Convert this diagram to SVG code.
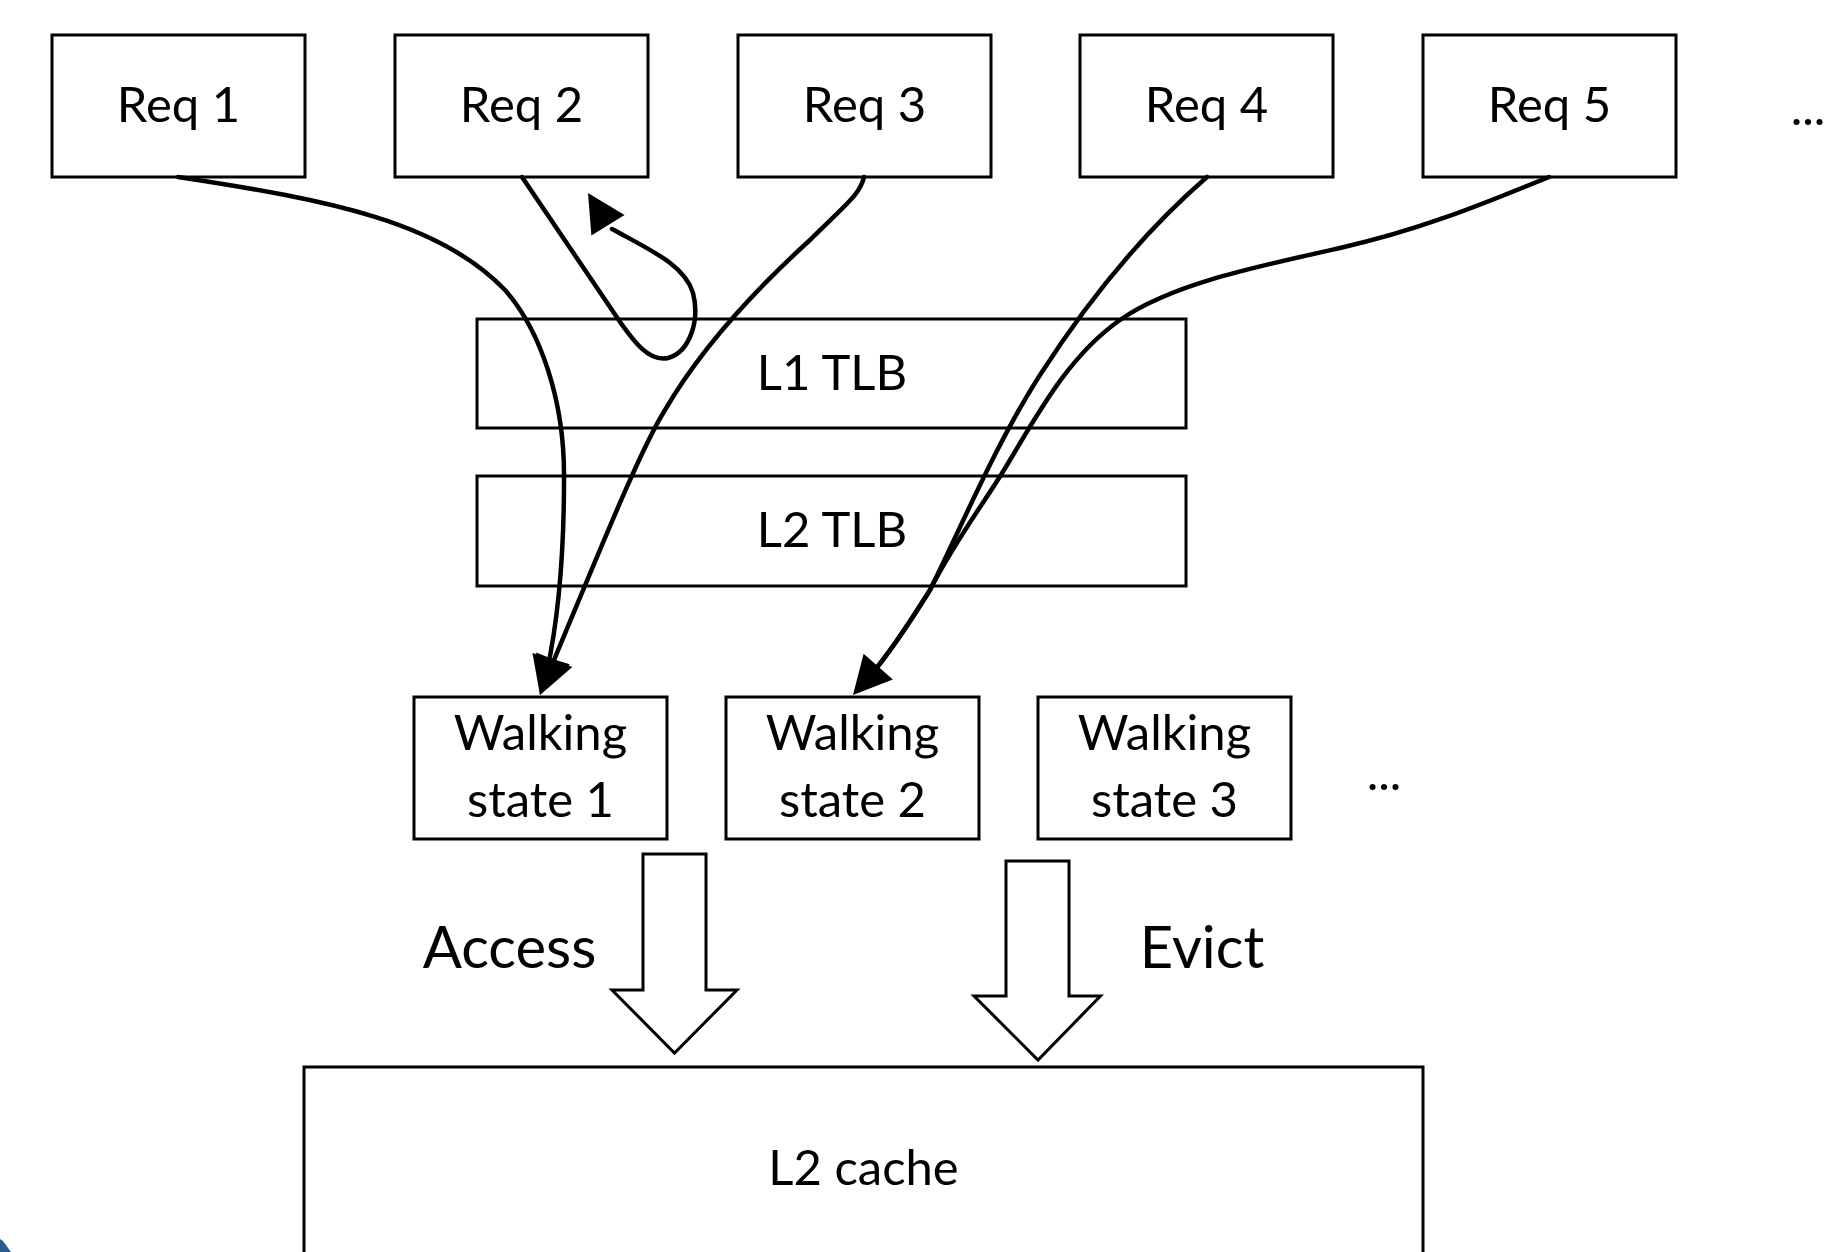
<svg xmlns="http://www.w3.org/2000/svg" xmlns:xlink="http://www.w3.org/1999/xlink" width="1839" height="1252" viewBox="0 0 1839 1252">
<style>
.box{fill:#fff;stroke:#000;stroke-width:3}
.lbl{font-family:Lato,'Open Sans',sans-serif;font-size:49px;text-anchor:middle;fill:#000}
.big{font-size:58px}
.conn{fill:none;stroke:#000;stroke-width:4.5;stroke-linecap:round;stroke-linejoin:round}
.block{fill:#fff;stroke:#000;stroke-width:3;stroke-linejoin:miter}
.ah{fill:#000;stroke:none}
</style>
<defs>
<path id="ah" class="ah" d="M0,0 L-38,-19.5 L-38,19.5 Z"/>
</defs>
<rect width="1839" height="1252" fill="#fff"/>
<polygon points="0,1239 3,1241 11,1252 0,1252" fill="#2B5B8C"/>

<g id="req1"><rect class="box" x="52" y="35" width="253" height="142"/><text class="lbl" x="178.5" y="122">Req 1</text></g>
<g id="req2"><rect class="box" x="395" y="35" width="253" height="142"/><text class="lbl" x="521.5" y="122">Req 2</text></g>
<g id="req3"><rect class="box" x="738" y="35" width="253" height="142"/><text class="lbl" x="864.5" y="122">Req 3</text></g>
<g id="req4"><rect class="box" x="1080" y="35" width="253" height="142"/><text class="lbl" x="1206.5" y="122">Req 4</text></g>
<g id="req5"><rect class="box" x="1423" y="35" width="253" height="142"/><text class="lbl" x="1549.5" y="122">Req 5</text></g>
<g id="req-more"><text class="lbl" x="1808" y="125">...</text></g>

<g id="l1tlb"><rect class="box" x="477" y="319" width="709" height="109"/><text class="lbl" x="832" y="390">L1 TLB</text></g>
<g id="l2tlb"><rect class="box" x="477" y="476" width="709" height="110"/><text class="lbl" x="832" y="547">L2 TLB</text></g>

<g id="ws1"><rect class="box" x="414" y="697" width="253" height="142"/><text class="lbl" x="540.5" y="750">Walking</text><text class="lbl" x="540.5" y="817">state 1</text></g>
<g id="ws2"><rect class="box" x="726" y="697" width="253" height="142"/><text class="lbl" x="852.5" y="750">Walking</text><text class="lbl" x="852.5" y="817">state 2</text></g>
<g id="ws3"><rect class="box" x="1038" y="697" width="253" height="142"/><text class="lbl" x="1164.5" y="750">Walking</text><text class="lbl" x="1164.5" y="817">state 3</text></g>
<g id="ws-more"><text class="lbl" x="1384" y="790">...</text></g>

<g id="l2cache"><rect class="box" x="304" y="1067" width="1119" height="300"/><text class="lbl" x="863.5" y="1185">L2 cache</text></g>

<g id="access"><polygon class="block" points="643,854 706,854 706,990 737,990 674.5,1053 612,990 643,990"/><text class="lbl big" x="509.5" y="968">Access</text></g>
<g id="evict"><polygon class="block" points="1006,861 1069,861 1069,996 1100.5,996 1038,1060 974,996 1006,996"/><text class="lbl big" x="1202" y="968">Evict</text></g>

<g id="connectors">
<path class="conn" d="M178,177 C330,200 440,222 505,290 C540,330 565,400 564,480 C564,560 558,620 547,671"/>
<use xlink:href="#ah" href="#ah" transform="translate(540,695) rotate(107)"/>
<path class="conn" d="M522,177 L612,310 C635,345 650,362 668,358 C690,352 700,320 693,293 C685,265 650,250 612,229"/>
<use xlink:href="#ah" href="#ah" transform="translate(588,193) rotate(238.3)"/>
<path class="conn" d="M864,177 C860,195 845,205 810,240 C755,290 700,350 665,410 C640,450 600,550 549,672"/>
<use xlink:href="#ah" href="#ah" transform="translate(540,695) rotate(112)"/>
<path class="conn" d="M1207,177 C1140,235 1085,305 1040,375 C995,445 960,530 930,590 C905,630 888,655 870,676"/>
<path class="conn" d="M1549,177 C1480,205 1420,230 1340,248 C1250,268 1170,285 1120,320 C1070,355 1040,410 1010,460 C990,495 955,540 930,590 C905,630 888,655 870,676"/>
<use xlink:href="#ah" href="#ah" transform="translate(853,695) rotate(131.6)"/>
</g>
</svg>
